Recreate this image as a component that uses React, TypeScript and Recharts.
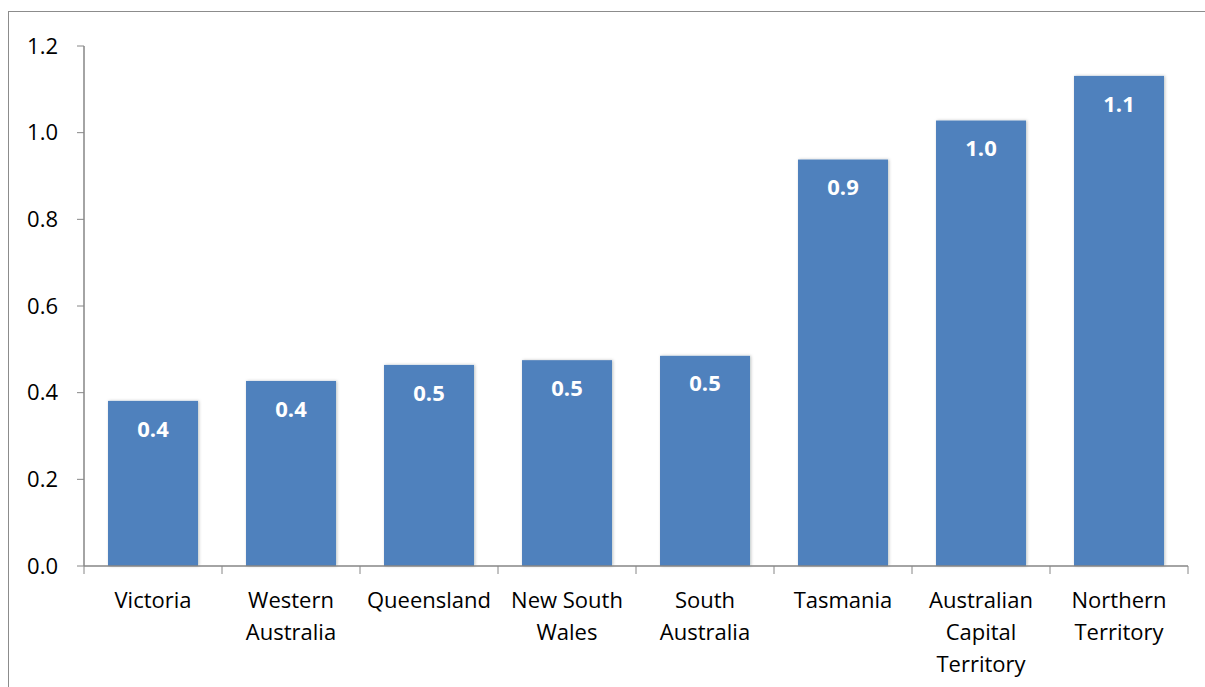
import React from "react";
import { Bar, BarChart, LabelList, XAxis, YAxis } from "recharts";

const states = [
  "Victoria",
  "Western Australia",
  "Queensland",
  "New South Wales",
  "South Australia",
  "Tasmania",
  "Australian Capital Territory",
  "Northern Territory",
];
const rates = [0.381, 0.427, 0.464, 0.475, 0.485, 0.938, 1.028, 1.131];
const yTicks = [0, 0.2, 0.4, 0.6, 0.8, 1.0, 1.2];

const data = states.map((name, i) => ({ name, rate: rates[i] }));

const FONT = "'Open Sans', sans-serif";
const AXIS = "#868686";

// greedy word wrap, like Excel does for the category labels
const wrap = (label: string, maxChars = 10) => {
  const lines: string[] = [];
  let cur = "";
  label.split(" ").forEach((w) => {
    if (cur && (cur + " " + w).length > maxChars) {
      lines.push(cur);
      cur = w;
    } else {
      cur = cur ? cur + " " + w : w;
    }
  });
  if (cur) lines.push(cur);
  return lines;
};

const StateTick = (props: any) => {
  const { x, y, payload, index } = props;
  const half = payload.offset ?? 69;
  const lines = wrap(String(payload.value));
  return (
    <g>
      <line x1={x - half} x2={x - half} y1={y} y2={y + 8} stroke={AXIS} />
      {index === states.length - 1 && (
        <line x1={x + half} x2={x + half} y1={y} y2={y + 8} stroke={AXIS} />
      )}
      <text textAnchor="middle" fontSize={22} fontFamily={FONT} fill="#000">
        {lines.map((l, i) => (
          <tspan key={i} x={x} y={y + 42 + i * 32}>
            {l}
          </tspan>
        ))}
      </text>
    </g>
  );
};

const ShadowBar = (props: any) => {
  const { x, y, width, height, fill } = props;
  return <rect x={x} y={y} width={width} height={height} fill={fill} filter="url(#barShadow)" />;
};

export default function App() {
  return (
    <div style={{ position: "fixed", left: 0, top: 0, width: 1205, height: 687, overflow: "hidden", background: "#fff" }}>
      <div
        style={{
          position: "absolute",
          left: 8,
          top: 11,
          width: 1220,
          height: 700,
          border: "1px solid #8c8c8c",
        }}
      />
      <div style={{ position: "absolute", left: 0, top: 0 }}>
        <BarChart
          width={1205}
          height={687}
          data={data}
          margin={{ top: 46, right: 17, left: 24, bottom: 21 }}
          barCategoryGap="17.4%"
        >
          <defs>
            <filter id="barShadow" x="-10%" y="-10%" width="120%" height="120%">
              <feDropShadow dx="1" dy="0" stdDeviation="1.5" floodColor="#000" floodOpacity="0.25" />
            </filter>
          </defs>
          <XAxis
            dataKey="name"
            interval={0}
            height={100}
            tickSize={0}
            tickMargin={0}
            tickLine={false}
            axisLine={{ stroke: AXIS, strokeWidth: 1.5 }}
            tick={<StateTick />}
          />
          <YAxis
            domain={[0, 1.2]}
            ticks={yTicks}
            interval={0}
            width={60}
            tickSize={7}
            tickMargin={19}
            axisLine={{ stroke: AXIS, strokeWidth: 1.5 }}
            tickLine={{ stroke: AXIS }}
            tick={{ fill: "#000", fontSize: 22, fontFamily: FONT }}
            tickFormatter={(v: number) => v.toFixed(1)}
          />
          <Bar dataKey="rate" fill="#4F81BD" shape={<ShadowBar />} isAnimationActive={false}>
            <LabelList
              dataKey="rate"
              position="insideTop"
              offset={20}
              formatter={(v: any) => Number(v).toFixed(1)}
              fill="#fff"
              fontSize={22}
              fontWeight={700}
              fontFamily={FONT}
            />
          </Bar>
        </BarChart>
      </div>
    </div>
  );
}
